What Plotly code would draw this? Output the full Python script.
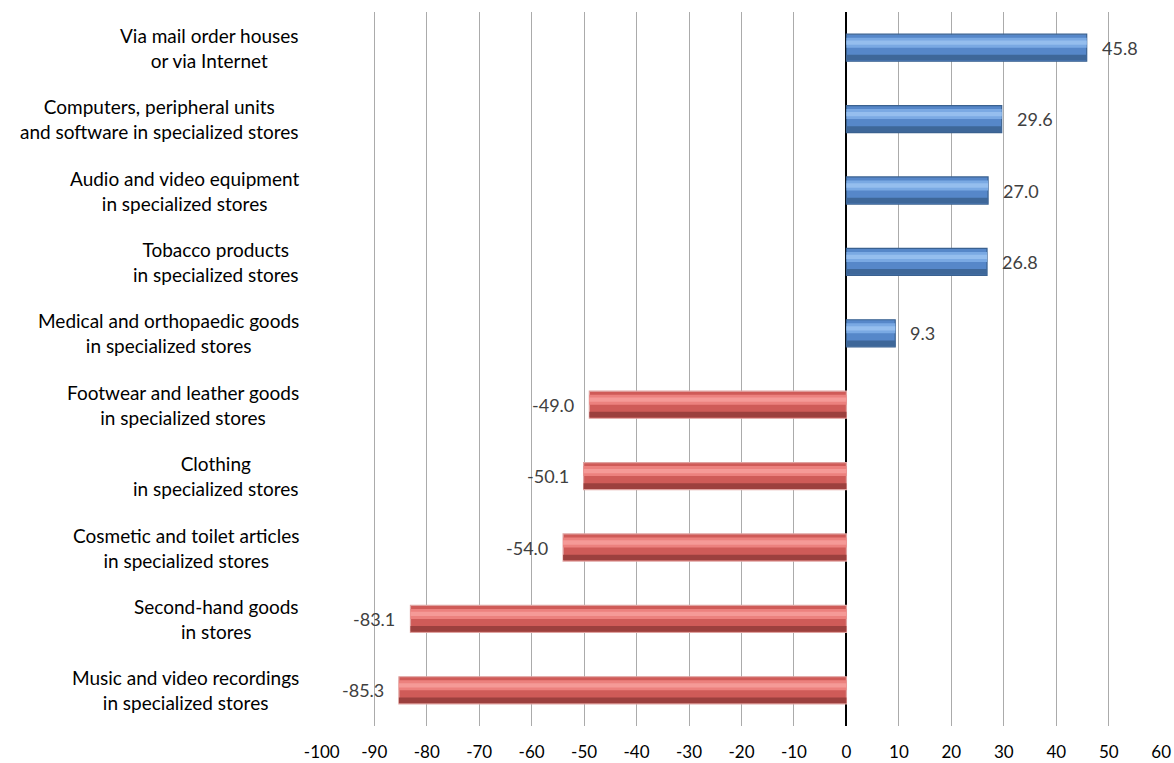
import plotly.graph_objects as go

categories = [
    "Via mail order houses<br>or via Internet",
    "Computers, peripheral units<br>and software in specialized stores",
    "Audio and video equipment<br>in specialized stores",
    "Tobacco products<br>in specialized stores",
    "Medical and orthopaedic goods<br>in specialized stores",
    "Footwear and leather goods<br>in specialized stores",
    "Clothing<br>in specialized stores",
    "Cosmetic and toilet articles<br>in specialized stores",
    "Second-hand goods<br>in stores",
    "Music and video recordings<br>in specialized stores",
]
values = [45.8, 29.6, 27.0, 26.8, 9.3, -49.0, -50.1, -54.0, -83.1, -85.3]
x_ticks = list(range(-100, 61, 10))

ids = list(range(len(categories)))

def pick(v, pos, neg):
    return pos if v >= 0 else neg

mid_col = [pick(v, "#5687C9", "#CF5B58") for v in values]
top_col = [pick(v, "#7AA9E3", "#EC817E") for v in values]
hi_col = [pick(v, "#95BEEE", "#F59A97") for v in values]
low_col = [pick(v, "#3E6799", "#9C403E") for v in values]
line_col = [pick(v, "#3A6190", "#DFA3A1") for v in values]

W = 0.38
fig = go.Figure()
# full bar
fig.add_trace(go.Bar(y=ids, x=values, orientation="h", width=W, offset=-W / 2,
                     marker=dict(color=mid_col, line=dict(color=line_col, width=1.2)),
                     hoverinfo="skip"))
# upper light band
fig.add_trace(go.Bar(y=ids, x=values, orientation="h", width=0.14, offset=-0.14,
                     marker=dict(color=top_col, line=dict(width=0)), hoverinfo="skip"))
# highlight
fig.add_trace(go.Bar(y=ids, x=values, orientation="h", width=0.06, offset=-0.1,
                     marker=dict(color=hi_col, line=dict(width=0)), hoverinfo="skip"))
# lower dark band
fig.add_trace(go.Bar(y=ids, x=values, orientation="h", width=0.08, offset=0.1,
                     marker=dict(color=low_col, line=dict(width=0)), hoverinfo="skip"))

annotations = []
for i, (c, v) in enumerate(zip(categories, values)):
    annotations.append(dict(x=0, xref="paper", y=i, yref="y", text=c, showarrow=False,
                            xanchor="right", xshift=-20, align="center",
                            font=dict(size=19, color="#000000")))
    annotations.append(dict(x=v, xref="x", y=i, yref="y", text=f"{v:.1f}", showarrow=False,
                            xanchor="left" if v >= 0 else "right",
                            xshift=13 if v >= 0 else -13,
                            font=dict(size=18, color="#404040")))

fig.update_layout(
    width=1174, height=763,
    margin=dict(l=321, r=12, t=12, b=37),
    barmode="overlay",
    showlegend=False,
    plot_bgcolor="white", paper_bgcolor="white",
    font=dict(family="Lato, Open Sans, sans-serif", size=17, color="#000000"),
    annotations=annotations,
    xaxis=dict(range=[-100.15, 60.15], tickvals=x_ticks, ticktext=[str(t) for t in x_ticks],
               showgrid=True, gridcolor="#ABABAB", gridwidth=1.3,
               zeroline=True, zerolinecolor="#000000", zerolinewidth=1.6,
               showline=False, ticks="", ticklabelstandoff=14, automargin=False,
               tickfont=dict(size=17, color="#000000")),
    yaxis=dict(range=[len(categories) - 0.5, -0.5], showticklabels=False,
               showgrid=False, zeroline=False, showline=False, ticks=""),
)

fig.write_html("out.html")
